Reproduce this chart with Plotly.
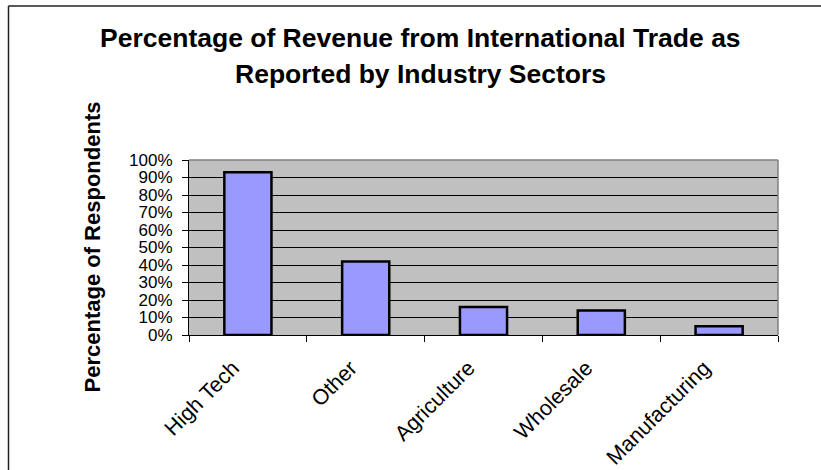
import plotly.graph_objects as go

# Survey results by industry sector
sectors = ["High Tech", "Other", "Agriculture", "Wholesale", "Manufacturing"]
share_of_respondents = [0.93, 0.42, 0.16, 0.14, 0.05]
y_tick_values = [0, 0.1, 0.2, 0.3, 0.4, 0.5, 0.6, 0.7, 0.8, 0.9, 1.0]

W, H = 821, 470
# plot area in pixels
PL, PR, PT, PB = 189, 778, 160, 335
pw, ph = PR - PL, PB - PT


def px_x(x):
    return (x - PL) / pw


def px_y(y):
    return (PB - y) / ph


FONT = "Liberation Sans, Arial, sans-serif"

fig = go.Figure(
    go.Bar(
        x=sectors,
        y=share_of_respondents,
        marker=dict(color="#9999FF", line=dict(color="#000000", width=2.5)),
        showlegend=False,
        hoverinfo="x+y",
    )
)

fig.update_layout(
    width=W,
    height=H,
    margin=dict(l=PL, r=W - PR, t=PT, b=H - PB, pad=0, autoexpand=False),
    paper_bgcolor="#FFFFFF",
    plot_bgcolor="#C0C0C0",
    bargap=0.6,
    font=dict(family=FONT, color="#000000"),
    xaxis=dict(
        type="category",
        automargin=False,
        tickson="boundaries",
        ticks="outside",
        ticklen=6,
        tickcolor="#000000",
        tickwidth=1,
        showline=True,
        linecolor="#000000",
        linewidth=1,
        showgrid=False,
        tickangle=-45,
        tickfont=dict(size=21.5, family=FONT),
        ticklabelstandoff=11,
        ticklabelshift=-15,
        mirror=False,
    ),
    yaxis=dict(
        range=[0, 1.0],
        automargin=False,
        tickvals=y_tick_values,
        tickformat=".0%",
        ticks="outside",
        ticklen=6,
        tickcolor="#000000",
        showline=True,
        linecolor="#000000",
        linewidth=1,
        showgrid=True,
        gridcolor="#000000",
        gridwidth=1,
        zeroline=False,
        tickfont=dict(size=17, family=FONT),
        ticklabelstandoff=6,
    ),
    shapes=[
        # plot-area frame on the top and right
        dict(type="line", xref="paper", yref="paper", x0=0, x1=1, y0=1, y1=1,
             line=dict(color="#808080", width=1.5)),
        dict(type="line", xref="paper", yref="paper", x0=1, x1=1, y0=0, y1=1,
             line=dict(color="#808080", width=1.5)),
        # chart border
        dict(type="line", xref="paper", yref="paper",
             x0=px_x(8.5), x1=px_x(830), y0=px_y(6), y1=px_y(6),
             line=dict(color="#222222", width=1.5)),
        dict(type="line", xref="paper", yref="paper",
             x0=px_x(8.5), x1=px_x(8.5), y0=px_y(6), y1=px_y(480),
             line=dict(color="#222222", width=1.5)),
    ],
    annotations=[
        dict(text="<b>Percentage of Revenue from International Trade as</b>",
             xref="paper", yref="paper", x=px_x(420), y=px_y(38),
             xanchor="center", yanchor="middle", showarrow=False,
             font=dict(size=26.5, family=FONT)),
        dict(text="<b>Reported by Industry Sectors</b>",
             xref="paper", yref="paper", x=px_x(420), y=px_y(74),
             xanchor="center", yanchor="middle", showarrow=False,
             font=dict(size=26.5, family=FONT)),
        dict(text="<b>Percentage of Respondents</b>",
             xref="paper", yref="paper", x=px_x(92), y=0.5,
             xanchor="center", yanchor="middle", showarrow=False,
             textangle=-90, font=dict(size=22, family=FONT)),
    ],
)

fig.write_html("out.html")
